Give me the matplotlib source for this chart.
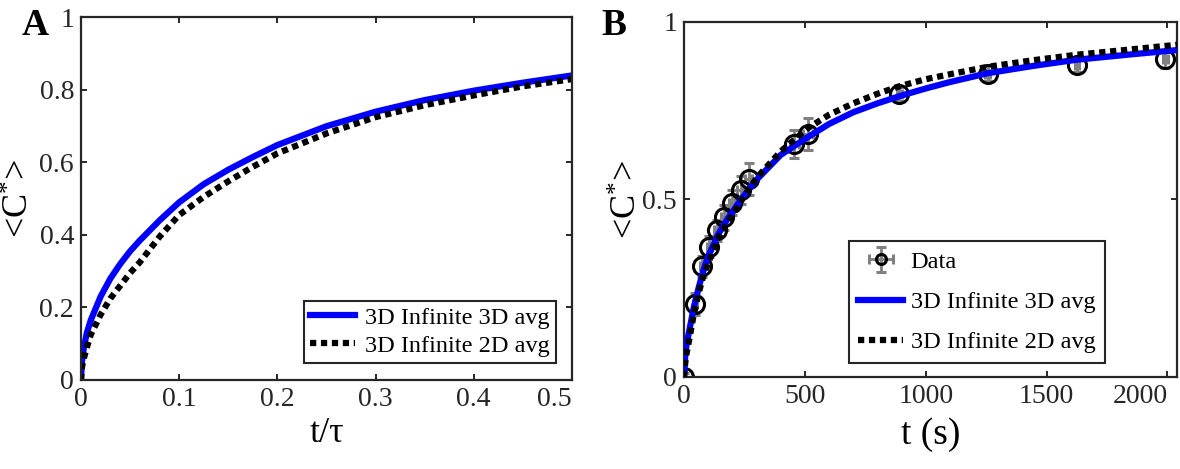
import matplotlib
matplotlib.use('Agg')
import matplotlib.pyplot as plt

plt.rcParams['font.family'] = ['Liberation Serif', 'DejaVu Serif']
plt.rcParams['mathtext.default'] = 'regular'

# panel A: model curves against t/tau
tA = [0, 0.001, 0.003, 0.006, 0.01, 0.02, 0.03, 0.04, 0.05, 0.06, 0.08, 0.1,
      0.125, 0.15, 0.175, 0.2, 0.25, 0.3, 0.35, 0.4, 0.45, 0.5]
a_3d = [0, 0.05, 0.09, 0.13, 0.165, 0.23, 0.28, 0.32, 0.355, 0.385, 0.44, 0.49,
        0.54, 0.58, 0.615, 0.648, 0.70, 0.74, 0.772, 0.798, 0.82, 0.84]
a_2d = [0, 0.035, 0.06, 0.09, 0.125, 0.18, 0.225, 0.26, 0.295, 0.325, 0.395, 0.455,
        0.505, 0.548, 0.588, 0.625, 0.68, 0.725, 0.758, 0.785, 0.81, 0.83]

# panel B: measurements and model curves against t (s)
t_data = [0, 45, 75, 105, 135, 165, 200, 235, 268, 457, 512, 890, 1257, 1626, 1992]
c_data = [0, 0.205, 0.311, 0.367, 0.413, 0.45, 0.49, 0.527, 0.556, 0.655, 0.683,
          0.797, 0.854, 0.877, 0.896]
c_err = [0.01, 0.03, 0.03, 0.03, 0.03, 0.035, 0.035, 0.04, 0.045, 0.04, 0.045,
         0.02, 0.02, 0.02, 0.025]
t_err = [5, 10, 10, 10, 10, 12, 12, 15, 15, 20, 20, 10, 10, 10, 10]

tB = [0, 5, 10, 20, 40, 60, 80, 100, 140, 180, 236, 300, 400, 512, 600, 700, 800,
      890, 1000, 1100, 1257, 1450, 1626, 1850, 2040]
b_3d = [0, 0.06, 0.09, 0.125, 0.195, 0.25, 0.30, 0.34, 0.40, 0.445, 0.50, 0.555,
        0.625, 0.675, 0.712, 0.745, 0.77, 0.79, 0.812, 0.83, 0.855, 0.876, 0.893,
        0.908, 0.92]
b_2d = [0, 0.04, 0.065, 0.10, 0.175, 0.235, 0.285, 0.32, 0.39, 0.435, 0.495, 0.56,
        0.635, 0.70, 0.738, 0.77, 0.797, 0.818, 0.838, 0.852, 0.873, 0.892, 0.907,
        0.922, 0.935]

blue = '#0000ff'
dots = (0, (1, 0.75))

fig = plt.figure(figsize=(11.8, 4.69), dpi=100)
axA = fig.add_axes([0.0686, 0.1898, 0.4161, 0.773])
axB = fig.add_axes([0.5797, 0.1962, 0.4178, 0.7576])

for ax in (axA, axB):
    for s in ax.spines.values():
        s.set_linewidth(1.6)
        s.set_color('#262626')
    ax.tick_params(direction='in', top=True, right=True, length=4, width=1.4,
                   colors='#262626', pad=5, labelsize=20, labelcolor='#262626')

# ---- A
axA.plot(tA, a_3d, color=blue, lw=4.5, label='3D Infinite 3D avg')
axA.plot(tA, a_2d, color='black', lw=4.5, ls=dots, dash_capstyle='butt',
         label='3D Infinite 2D avg')
axA.set_xlim(0, 0.5)
axA.set_ylim(0, 1)
axA.set_xticks([0, 0.1, 0.2, 0.3, 0.4, 0.5])
axA.set_xticklabels(['0', '0.1', '0.2', '0.3', '0.4', '0.5'])
axA.get_xticklabels()[-1].set_ha('right')
axA.set_yticks([0, 0.2, 0.4, 0.6, 0.8, 1])
axA.set_yticklabels(['0', '0.2', '0.4', '0.6', '0.8', '1'])
axA.set_xlabel('t/\u03c4', fontsize=26, labelpad=4)
axA.set_ylabel('<C$^{*}$>', fontsize=26, labelpad=2)
legA = axA.legend(loc='lower right', bbox_to_anchor=(0.967, 0.047), borderaxespad=0,
                  fontsize=17.5, fancybox=False, framealpha=1, edgecolor='#262626',
                  handlelength=1.85, handletextpad=0.4, borderpad=0.25,
                  labelspacing=0.25)
legA.get_frame().set_linewidth(1.5)
fig.text(0.018, 0.925, 'A', fontsize=27, fontweight='bold')

# ---- B
axB.errorbar(t_data, c_data, yerr=c_err, xerr=t_err, fmt='o', ms=13, mfc='none',
             mec='black', mew=2.2, ecolor='#808080', elinewidth=2, capsize=3.5,
             capthick=2, label='Data', zorder=2)
axB.plot(tB, b_3d, color=blue, lw=4.5, label='3D Infinite 3D avg', zorder=3)
axB.plot(tB, b_2d, color='black', lw=4.5, ls=dots, dash_capstyle='butt',
         label='3D Infinite 2D avg', zorder=3)
axB.set_xlim(0, 2040)
axB.set_ylim(0, 1)
axB.set_xticks([0, 500, 1000, 1500, 2000])
axB.get_xticklabels()[-1].set_ha('right')
axB.set_yticks([0, 0.5, 1])
axB.set_yticklabels(['0', '0.5', '1'])
axB.set_xlabel('t (s)', fontsize=27, labelpad=6)
axB.set_ylabel('<C$^{*}$>', fontsize=26, labelpad=-2)
handles, labels = axB.get_legend_handles_labels()
order = [labels.index('Data'), labels.index('3D Infinite 3D avg'),
         labels.index('3D Infinite 2D avg')]
legB = axB.legend([handles[i] for i in order], [labels[i] for i in order],
                  loc='lower right', bbox_to_anchor=(0.854, 0.039), borderaxespad=0,
                  fontsize=17.5, fancybox=False, framealpha=1, edgecolor='#262626',
                  handlelength=1.85, handletextpad=0.3, borderpad=0.4,
                  labelspacing=0.75, markerscale=0.55)
legB.get_frame().set_linewidth(1.5)
fig.text(0.510, 0.925, 'B', fontsize=27, fontweight='bold')

fig.savefig('out.png', dpi=100)
